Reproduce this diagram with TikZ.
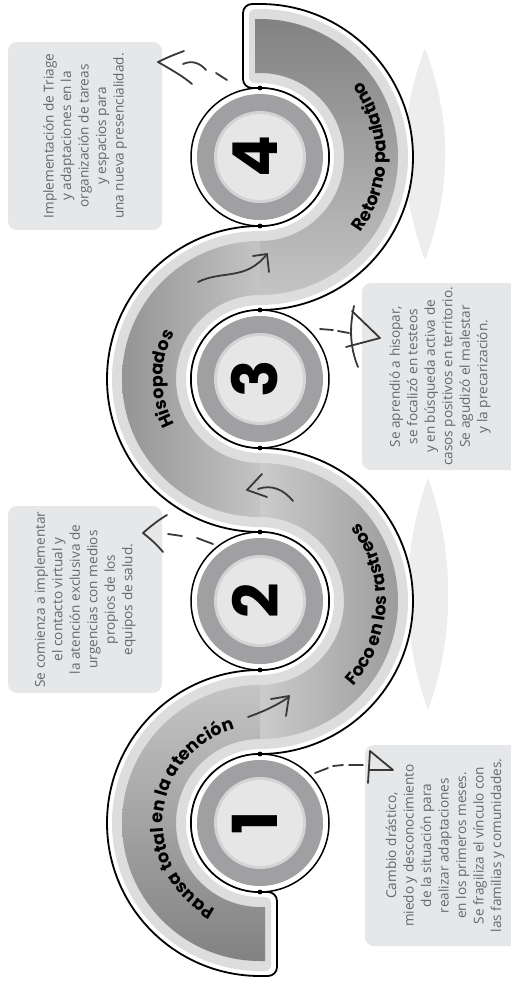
\documentclass[tikz,border=0pt]{standalone}
\usepackage{fontspec}
\newfontfamily\boxfont{Open Sans}
\newfontfamily\headfont{Poppins}
\usetikzlibrary{decorations.text,calc}
\definecolor{boxgray}{HTML}{E6E7E8}
\definecolor{txtgray}{HTML}{66676A}
\definecolor{rimgray}{HTML}{DDDDDD}
\definecolor{lensgray}{HTML}{EDEDED}
\definecolor{ringgray}{HTML}{A0A0A2}
\definecolor{ringlight}{HTML}{D3D3D5}
\definecolor{discgray}{HTML}{E6E6E7}
\definecolor{sketch}{HTML}{383838}
\definecolor{gA}{HTML}{828282}
\definecolor{gB}{HTML}{939393}
\definecolor{gC}{HTML}{C4C4C4}
\definecolor{gD}{HTML}{CBCBCB}
\definecolor{gE}{HTML}{9C9C9C}
\newcommand\bandstyle{\headfont\bfseries\fontsize{17.5}{17.5}\selectfont}
\tikzset{
  infobox/.style={fill=boxgray, rounded corners=9pt, rotate=90, align=center,
    text=txtgray, font=\boxfont\fontsize{13.6}{17.5}\selectfont, inner sep=0pt},
  numlabel/.style={rotate=90, font=\headfont\bfseries\fontsize{62}{62}\selectfont,
    text=black, inner sep=0pt},
  sketchline/.style={draw=sketch, line width=1.8pt, line cap=round, line join=round},
  halo/.style={fill=white, draw=black, line width=1.8pt},
  ringnode/.style={circle, draw=black, fill=white, line width=1.5pt,
    minimum size=138pt, inner sep=0pt},
  junctiondot/.style={fill=black},
  bandlabel/.style={decorate, decoration={text along path, text align=center, text={#1}}}
}
\begin{document}
\begin{tikzpicture}[x=1pt,y=1pt]
\useasboundingbox (0,0) rectangle (511,-983);
\clip (0,0) rectangle (511,-983);
\coordinate (C4) at (260,-157);
\coordinate (C3) at (260,-379);
\coordinate (C2) at (260,-601);
\coordinate (C1) at (260,-823);

% faint lens shapes
\fill[lensgray] (425,-48) .. controls (398,-120) and (398,-188) .. (425,-260)
  .. controls (452,-188) and (452,-120) .. (425,-48) -- cycle;
\fill[lensgray] (428,-478) .. controls (401,-550) and (401,-638) .. (428,-710)
  .. controls (455,-638) and (455,-550) .. (428,-478) -- cycle;

% white halo of the winding band
\path[halo] (260,-88) [rounded corners=9pt] -- (243,-88) -- (243,-4) [sharp corners] -- (260,-4)
  arc[start angle=90,end angle=-90,radius=153pt]
  arc[start angle=90,end angle=270,radius=69pt]
  arc[start angle=90,end angle=-90,radius=153pt]
  arc[start angle=90,end angle=270,radius=69pt]
  [rounded corners=9pt] -- (277,-892) -- (277,-976) [sharp corners] -- (260,-976)
  arc[start angle=270,end angle=90,radius=153pt]
  arc[start angle=-90,end angle=90,radius=69pt]
  arc[start angle=270,end angle=90,radius=153pt]
  arc[start angle=-90,end angle=90,radius=69pt]
  -- cycle;

% light rim
\fill[rimgray] (260,-83) [rounded corners=6pt] -- (249,-83) -- (249,-9) [sharp corners] -- (260,-9)
  arc[start angle=90,end angle=-90,radius=148pt]
  arc[start angle=90,end angle=270,radius=74pt]
  arc[start angle=90,end angle=-90,radius=148pt]
  arc[start angle=90,end angle=270,radius=74pt]
  [rounded corners=6pt] -- (271,-897) -- (271,-971) [sharp corners] -- (260,-971)
  arc[start angle=270,end angle=90,radius=148pt]
  arc[start angle=-90,end angle=90,radius=74pt]
  arc[start angle=270,end angle=90,radius=148pt]
  arc[start angle=-90,end angle=90,radius=74pt]
  -- cycle;

% gray segments
\shade[top color=gA, middle color=gB, bottom color=gC]
  (255,-19) -- (260,-19) arc[start angle=90,end angle=-90,radius=138pt]
  -- (260,-241) arc[start angle=-90,end angle=90,radius=84pt] -- (255,-73) -- cycle;
\shade[left color=gE!95!black, right color=gC]
  (260,-241) arc[start angle=90,end angle=270,radius=138pt]
  -- (260,-463) arc[start angle=270,end angle=90,radius=84pt] -- cycle;
\shade[left color=gD, right color=gE]
  (260,-463) arc[start angle=90,end angle=-90,radius=138pt]
  -- (260,-685) arc[start angle=-90,end angle=90,radius=84pt] -- cycle;
\shade[top color=gC, middle color=gB, bottom color=gA]
  (260,-685) arc[start angle=90,end angle=270,radius=138pt]
  -- (265,-961) -- (265,-907) -- (260,-907)
  arc[start angle=270,end angle=90,radius=84pt] -- cycle;

% numbered discs
\foreach \i/\y in {1/-823,2/-601,3/-379,4/-157}{
  \node[ringnode] (ring\i) at (260,\y) {};
  \fill[ringgray] (260,\y) circle[radius=63pt];
  \fill[ringlight] (260,\y) circle[radius=46pt];
  \fill[discgray] (260,\y) circle[radius=43pt];
  \node[numlabel] (n\i) at (255,\y) {\i};
}

% junction dots
\foreach \y in {-88,-226,-310,-448,-532,-670,-754,-892}{
  \fill[junctiondot] (260,\y) circle[radius=2.4pt];
}

% curved labels along the band
\path[bandlabel={|\bandstyle|Pausa total en la atención}]
  ($(C1)+(264:97)$) arc[start angle=264,end angle=84,radius=97pt];
\path[bandlabel={|\bandstyle|Foco en los rastreos}]
  ($(C2)+(-92:126)$) arc[start angle=-92,end angle=88,radius=126pt];
\path[bandlabel={|\bandstyle|Hisopados}]
  ($(C3)+(270:97)$) arc[start angle=270,end angle=90,radius=97pt];
\path[bandlabel={|\bandstyle|Retorno paulatino}]
  ($(C4)+(-90:126)$) arc[start angle=-90,end angle=90,radius=126pt];

% sketched flow arrows inside the band
\draw[sketchline] (248,-717) .. controls (262,-712) and (276,-706) .. (289,-697);
\draw[sketchline] (271,-699) -- (289,-696) -- (286,-716);
\draw[sketchline] (262,-474) -- (247,-490) -- (267,-497);
\draw[sketchline] (258,-489) .. controls (272,-484) and (284,-490) .. (293,-501);
\draw[sketchline] (198,-282) .. controls (222,-270) and (246,-281) .. (267,-254);
\draw[sketchline] (253,-256) -- (267,-254) -- (269,-272);

% info boxes
\node[infobox, minimum width=188pt, minimum height=154pt] (b4) at (85,-136)
  {Implementación de Triage\\y adaptaciones en la\\organización de tareas\\y espacios para\\una nueva presencialidad.};
\node[infobox, minimum width=187pt, minimum height=154pt] (b2) at (85,-599.5)
  {Se comienza a implementar\\el contacto virtual y\\la atención exclusiva de\\urgencias con medios\\propios de los\\equipos de salud.};
\node[infobox, minimum width=187pt, minimum height=156pt] (b3) at (440,-376.5)
  {Se aprendió a hisopar,\\se focalizó en testeos\\y en búsqueda activa de\\casos positivos en territorio.\\Se agudizó el malestar\\y la precarización.};
\node[infobox, minimum width=201pt, minimum height=160pt] (b1) at (445,-845.5)
  {Cambio drástico,\\miedo y desconocimiento\\de la situación para\\realizar adaptaciones\\en los primeros meses.\\Se fragiliza el vínculo con\\las familias y comunidades.};

% sketched leader arrows from discs to boxes
% disc 4 -> box 4
\draw[sketchline] (158,-62) .. controls (168,-57) and (176,-54) .. (184,-51);
\draw[sketchline] (158,-62) .. controls (172,-70) and (184,-77) .. (192,-84);
\draw[sketchline] (183,-64) .. controls (192,-60) and (200,-63) .. (206,-70);
\draw[sketchline] (216,-73) -- (227,-80);
% disc 2 -> box 2
\draw[sketchline] (143,-533) .. controls (152,-525) and (160,-519) .. (167,-515);
\draw[sketchline] (143,-533) .. controls (152,-540) and (158,-546) .. (163,-552);
\draw[sketchline] (168,-534) -- (182,-536);
\draw[sketchline] (197,-538) -- (213,-544);
% disc 3 -> box 3
\draw[sketchline] (320,-329) -- (333,-330);
\draw[sketchline] (338,-331) -- (349,-333);
\draw[sketchline] (354,-306) .. controls (350,-325) and (349,-345) .. (358,-367);
\draw[sketchline] (352,-311) -- (380,-338) -- (346,-347);
% disc 1 -> box 1
\draw[sketchline] (315,-773) -- (328,-768);
\draw[sketchline] (333,-766) -- (343,-765);
\draw[sketchline] (349,-765) -- (363,-765);
\draw[sketchline] (370,-751) -- (368,-783);
\draw[sketchline] (370,-751) -- (393,-770) -- (369,-770);
\end{tikzpicture}
\end{document}
